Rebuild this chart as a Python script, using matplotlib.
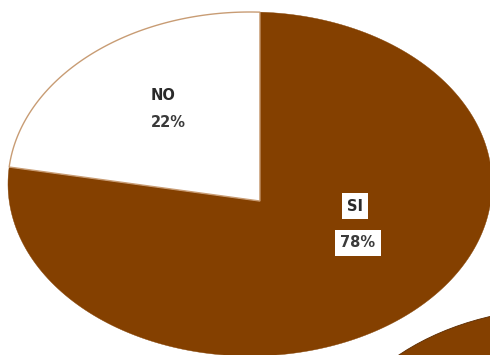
import numpy as np
import matplotlib.pyplot as plt
import matplotlib.patches as patches

categories = ["NO", "SI"]
values = [22, 78]
pct_labels = ["22%", "78%"]

brown = "#844000"
edge = "#c89c74"

fig = plt.figure(figsize=(4.9, 3.55), dpi=100)
ax = fig.add_axes([0, 0, 1, 1])

# The slices meet off-centre (perspective look): each slice is the set of
# rays from the vertex, cut where they hit the unit rim.
vertex = np.array([0.041, -0.099])


def slice_outline(theta1, theta2, n=200):
    th = np.radians(np.linspace(theta1, theta2, n))
    d = np.column_stack([np.cos(th), np.sin(th)])
    b = d @ vertex
    t = -b + np.sqrt(b * b - vertex @ vertex + 1)
    rim = vertex + t[:, None] * d
    pts = np.vstack([vertex, rim, vertex])
    return pts[:, 0], pts[:, 1]


fractions = np.array(values) / sum(values)
bounds = 90 + 360 * np.concatenate([[0], np.cumsum(fractions)])

# SI first (no edge), NO on top with its tan outline
xs, ys = slice_outline(bounds[1], bounds[2])
ax.fill(xs, ys, facecolor=brown, edgecolor=brown, linewidth=0.3, zorder=1)
xs, ys = slice_outline(bounds[0], bounds[1])
ax.fill(xs, ys, facecolor="white", edgecolor=edge, linewidth=1.0, zorder=2)

# part of a second pie peeking in at the lower right corner
ax.add_patch(patches.Ellipse((1.302, -1.721), 2.0, 2.0, facecolor=brown,
                             edgecolor="#5a2a00", linewidth=0.6))

ax.set_xlim(-250 / 242, 240 / 242)
ax.set_ylim(-171 / 172, 184 / 172)
ax.axis("off")

# data labels
ax.text(-0.36, 0.512, categories[0], ha="center", va="center",
        fontsize=10.5, fontweight="bold", color="#2a2a2a", zorder=3)
ax.text(-0.339, 0.36, pct_labels[0], ha="center", va="center",
        fontsize=10.5, fontweight="bold", color="#3a3a3a", zorder=3)

ax.text(0.434, -0.128, categories[1], ha="center", va="center",
        fontsize=10.5, fontweight="bold", color="#2a2a2a", zorder=3,
        bbox=dict(boxstyle="square,pad=0.35", facecolor="white", edgecolor="none"))
ax.text(0.446, -0.343, pct_labels[1], ha="center", va="center",
        fontsize=10.5, fontweight="bold", color="#3a3a3a", zorder=3,
        bbox=dict(boxstyle="square,pad=0.35", facecolor="white", edgecolor="none"))

plt.savefig("out.png", dpi=100)
plt.close()
